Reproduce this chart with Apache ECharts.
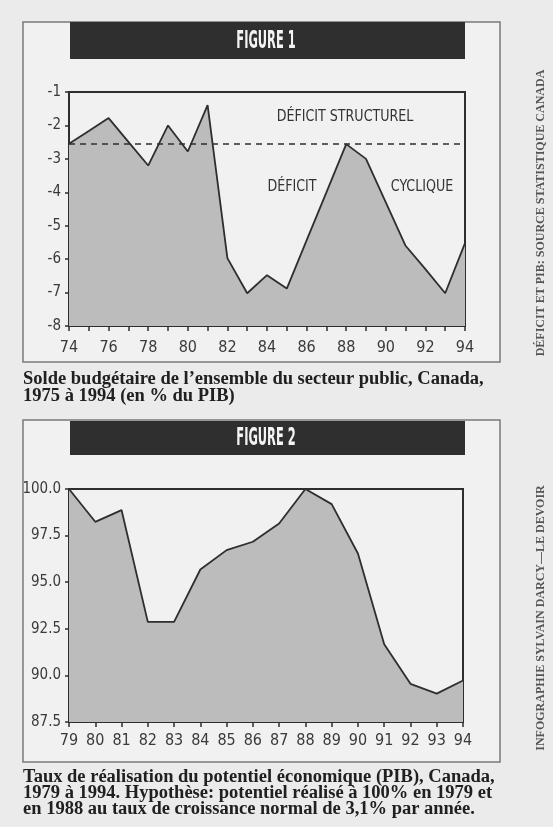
<!DOCTYPE html>
<html>
<head>
<meta charset="utf-8">
<script src="https://cdn.jsdelivr.net/npm/echarts@6/dist/echarts.min.js"></script>
<style>
  html, body { margin: 0; padding: 0; background: #ebebeb; }
  #chart { width: 553px; height: 827px; }
</style>
</head>
<body>
<div id="chart"></div>
<script>
// Figure 1: solde budgetaire (% du PIB)
var years1 = [74, 75, 76, 77, 78, 79, 80, 81, 82, 83, 84, 85, 86, 87, 88, 89, 90, 91, 92, 93, 94];
var solde = [-2.55, -2.17, -1.78, -2.49, -3.2, -2.0, -2.78, -1.39, -5.97, -7.02, -6.48, -6.88, -5.44, -4.0, -2.56, -3.0, -4.3, -5.6, -6.3, -7.02, -5.52];
var structurel = -2.55;

// Figure 2: taux de realisation du potentiel (PIB)
var years2 = [79, 80, 81, 82, 83, 84, 85, 86, 87, 88, 89, 90, 91, 92, 93, 94];
var potentiel = [100.0, 98.24, 98.87, 92.87, 92.87, 95.68, 96.72, 97.17, 98.15, 100.0, 99.19, 96.54, 91.67, 89.55, 89.02, 89.73];

var caption1 = ['Solde budgétaire de l\u2019ensemble du secteur public, Canada,', '1975 à 1994 (en % du PIB)'];
var caption2 = ['Taux de réalisation du potentiel économique (PIB), Canada,',
                '1979 à 1994. Hypothèse: potentiel réalisé à 100% en 1979 et',
                'en 1988 au taux de croissance normal de 3,1% par année.'];

var narrow = '"Liberation Sans Narrow", "DejaVu Sans Condensed", sans-serif';
var serif = '"Liberation Serif", "DejaVu Serif", serif';
var ink = '#2e2e2e';
var fill = '#bcbcbc';

function pairs(xs, ys) {
  return xs.map(function (x, i) { return [x, ys[i]]; });
}

function xAxisOpt(idx, min, max, step, minor, margin) {
  return {
    type: 'value', gridIndex: idx, min: min, max: max, interval: step,
    axisLine: { show: true, onZero: false, lineStyle: { color: ink, width: 2 } },
    axisTick: { show: true, length: 5, lineStyle: { color: ink, width: 1.5 } },
    minorTick: { show: minor, splitNumber: 2, length: 5, lineStyle: { color: ink, width: 1.5 } },
    axisLabel: { color: '#3a3a3a', fontFamily: narrow, fontSize: 16, margin: margin },
    splitLine: { show: false }
  };
}

function yAxisOpt(idx, min, max, step, fmt) {
  return {
    type: 'value', gridIndex: idx, min: min, max: max, interval: step,
    axisLine: { show: true, lineStyle: { color: ink, width: 2 } },
    axisTick: { show: true, length: 4, lineStyle: { color: ink, width: 1.5 } },
    axisLabel: { color: '#3a3a3a', fontFamily: narrow, fontSize: 15, margin: 8, formatter: fmt },
    splitLine: { show: false }
  };
}

function frame(top, bottom) {
  return { type: 'rect', shape: { x: 23, y: top, width: 477, height: bottom - top },
           style: { fill: '#f1f1f1', stroke: '#7a7a7a', lineWidth: 1.5 }, z: -10 };
}

function titleBar(top, h, label) {
  return { type: 'group', children: [
    { type: 'rect', shape: { x: 70, y: top, width: 395, height: h }, style: { fill: '#2f2f2f' } },
    { type: 'text', x: 266, y: top + h / 2 + 1, scaleX: 0.53,
      style: { text: label, fill: '#f4f4f4', font: 'bold 24px ' + narrow,
               textAlign: 'center', textVerticalAlign: 'middle' } }
  ] };
}

function captionLines(lines, y0, lh) {
  return lines.map(function (t, i) {
    return { type: 'text', x: 23, y: y0 + i * lh,
             style: { text: t, fill: '#202020', font: 'bold 18.5px ' + serif, textVerticalAlign: 'middle' } };
  });
}

function sideText(t, x, y) {
  return { type: 'text', x: x, y: y, rotation: Math.PI / 2,
           style: { text: t, fill: '#555', font: 'bold 12px ' + serif,
                    textAlign: 'center', textVerticalAlign: 'middle' } };
}

function note(t, x, y) {
  return { type: 'text', x: x, y: y, scaleX: 0.88,
           style: { text: t, fill: '#333', font: '16px ' + narrow,
                    textAlign: 'center', textVerticalAlign: 'middle' } };
}

var chart = echarts.init(document.getElementById('chart'));

var graphics = [
  frame(22, 362), frame(420, 762),
  titleBar(22, 37, 'FIGURE 1'), titleBar(421, 34, 'FIGURE 2'),
  note('DÉFICIT STRUCTUREL', 345, 117),
  note('DÉFICIT', 292, 187),
  note('CYCLIQUE', 422, 187),
  sideText('DÉFICIT ET PIB: SOURCE STATISTIQUE CANADA', 541, 213),
  sideText('INFOGRAPHIE SYLVAIN DARCY\u2014LE DEVOIR', 541, 618)
].concat(captionLines(caption1, 379, 17)).concat(captionLines(caption2, 777, 16));

chart.setOption({
  animation: false,
  backgroundColor: '#ebebeb',
  grid: [
    { left: 69, top: 92, width: 396, height: 234, show: true, borderColor: ink, borderWidth: 2, backgroundColor: 'transparent' },
    { left: 69, top: 489, width: 394, height: 233, show: true, borderColor: ink, borderWidth: 2, backgroundColor: 'transparent' }
  ],
  xAxis: [xAxisOpt(0, 74, 94, 2, true, 14), xAxisOpt(1, 79, 94, 1, false, 11)],
  yAxis: [
    yAxisOpt(0, -8, -1, 1, function (v) { return String(v); }),
    yAxisOpt(1, 87.5, 100, 2.5, function (v) { return v.toFixed(1); })
  ],
  graphic: graphics,
  series: [
    {
      type: 'line', xAxisIndex: 0, yAxisIndex: 0, data: pairs(years1, solde),
      symbol: 'none', lineStyle: { color: ink, width: 1.8 },
      areaStyle: { color: fill, opacity: 1, origin: 'start' },
      markLine: {
        silent: true, symbol: 'none', label: { show: false },
        lineStyle: { color: ink, type: [6, 5], width: 1.6 },
        data: [{ yAxis: structurel }]
      }
    },
    {
      type: 'line', xAxisIndex: 1, yAxisIndex: 1, data: pairs(years2, potentiel),
      symbol: 'none', lineStyle: { color: ink, width: 1.8 },
      areaStyle: { color: fill, opacity: 1, origin: 'start' }
    }
  ]
});
</script>
</body>
</html>
